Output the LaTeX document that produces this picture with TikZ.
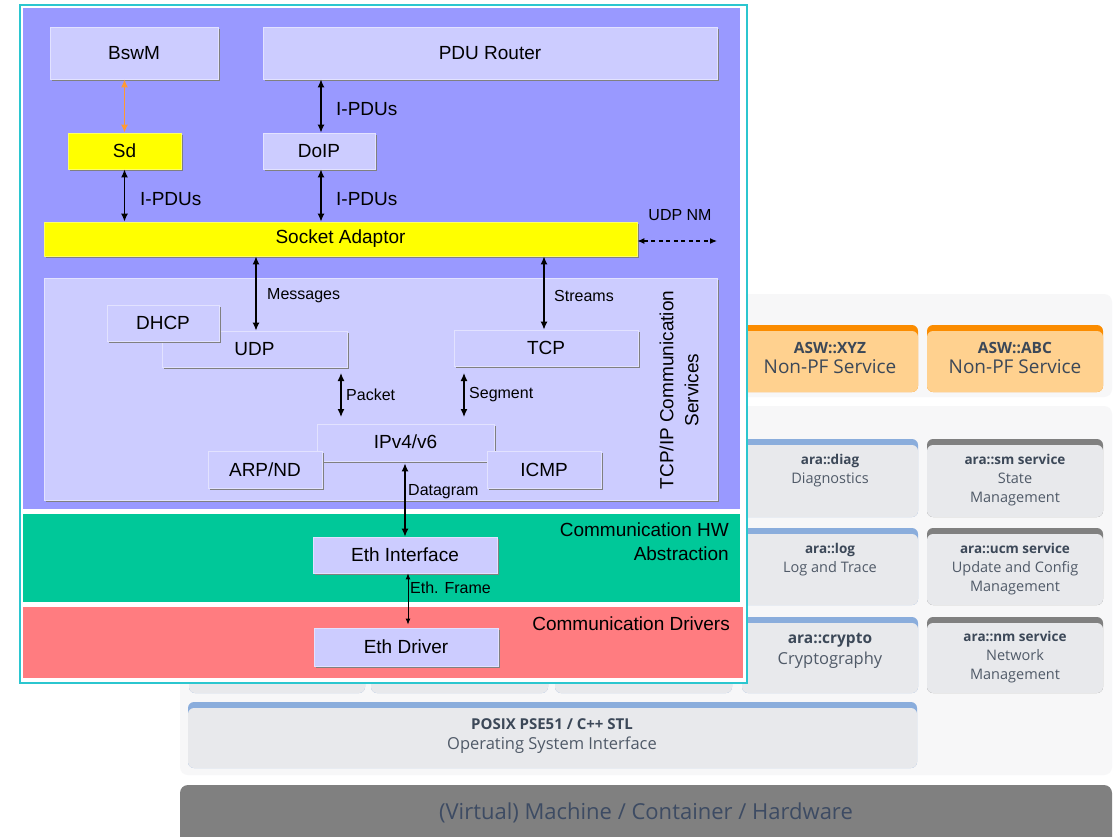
\documentclass[tikz,border=0pt]{standalone}
\usepackage{fontspec}
\setmainfont{Liberation Sans}
\newfontfamily\osans{Open Sans}
\usetikzlibrary{arrows.meta,shadows,calc}
\definecolor{cyanb}{HTML}{2BC6CF}
\definecolor{bluebg}{HTML}{9999FF}
\definecolor{lav}{HTML}{CCCCFF}
\definecolor{lavedge}{HTML}{E2E2FF}
\definecolor{greenbg}{HTML}{00C899}
\definecolor{redbg}{HTML}{FF7C80}
\definecolor{yel}{HTML}{FFFF00}
\definecolor{orarrow}{HTML}{FF9A33}
\definecolor{panel}{HTML}{F7F7F8}
\definecolor{svc}{HTML}{E8E9EC}
\definecolor{stripblue}{HTML}{8AADDC}
\definecolor{stripgray}{HTML}{808080}
\definecolor{aswbody}{HTML}{FFD18F}
\definecolor{aswstrip}{HTML}{FB8C00}
\definecolor{txtdark}{HTML}{3C4858}
\definecolor{txtreg}{HTML}{505A68}
\definecolor{vmtxt}{HTML}{3D4B63}
\tikzset{
  box/.style={fill=lav, draw=lavedge, line width=0.8pt, inner sep=0pt,
    font=\fontsize{19}{22}\selectfont,
    drop shadow={shadow xshift=1.6pt, shadow yshift=-1.6pt, fill=black!50, opacity=1}},
  ybox/.style={box, fill=yel, draw=yel!60!white},
  arr/.style={{Latex[length=8pt,width=7pt]}-{Latex[length=8pt,width=7pt]}, line width=1.3pt, black},
  thinarr/.style={{Latex[length=6pt,width=5pt]}-{Latex[length=6pt,width=5pt]}, line width=0.9pt, black},
  oarr/.style={{Latex[length=8pt,width=7pt]}-{Latex[length=8pt,width=7pt]}, line width=1.3pt, orarrow},
  darr/.style={{Latex[length=7pt,width=6pt]}-{Latex[length=7pt,width=6pt]}, line width=1.2pt, black, dash pattern=on 4pt off 3.5pt},
  lbl/.style={inner sep=0pt, font=\fontsize{19}{22}\selectfont},
  slbl/.style={inner sep=0pt, font=\fontsize{16}{19}\selectfont},
  svctxt/.style={inner sep=0pt, align=center, text=txtreg, font=\osans\fontsize{14.5}{19}\selectfont},
}
\newcommand{\svcbox}[5]{%
  \fill[#5, rounded corners=6pt] (#1,#2) rectangle (#3,#4);
  \fill[svc, rounded corners=6pt] (#1,#2+6) rectangle (#3,#4);
}
\begin{document}
\begin{tikzpicture}[x=1pt,y=-1pt]
\useasboundingbox (0,0) rectangle (1117,836);
\fill[white] (0,0) rectangle (1117,836);
% ---------- background architecture ----------
\fill[panel, rounded corners=8pt] (180,294) rectangle (1112,397);
\fill[panel, rounded corners=8pt] (180,406) rectangle (1112,775);
% ASW boxes
\fill[aswstrip, rounded corners=6pt] (742,325) rectangle (918,392);
\fill[aswbody, rounded corners=6pt] (742,331) rectangle (918,392);
\fill[aswstrip, rounded corners=6pt] (927,325) rectangle (1103,392);
\fill[aswbody, rounded corners=6pt] (927,331) rectangle (1103,392);
\node[svctxt, text=txtdark] (aswxyz) at (830,358) {{\bfseries\fontsize{15.5}{19}\selectfont ASW::XYZ}\\[1pt]{\fontsize{19}{21}\selectfont Non-PF Service}};
\node[svctxt, text=txtdark] (aswabc) at (1015,358) {{\bfseries\fontsize{15.5}{19}\selectfont ASW::ABC}\\[1pt]{\fontsize{19}{21}\selectfont Non-PF Service}};
% service boxes
\svcbox{742}{439}{918}{517}{stripblue}
\svcbox{927}{439}{1103}{517}{stripgray}
\svcbox{742}{528}{918}{605}{stripblue}
\svcbox{927}{528}{1103}{605}{stripgray}
\svcbox{742}{617}{918}{693}{stripblue}
\svcbox{927}{617}{1103}{693}{stripgray}
\svcbox{189}{617}{365}{693}{stripblue}
\svcbox{371}{617}{548}{693}{stripblue}
\svcbox{555}{617}{732}{693}{stripblue}
\svcbox{188}{702}{917}{768}{stripblue}
\node[svctxt] (diag) at (830,471) {{\bfseries\color{txtdark}\fontsize{13.5}{19}\selectfont ara::diag}\\Diagnostics};
\node[svctxt] (sm) at (1015,480) {{\bfseries\color{txtdark}\fontsize{13.5}{19}\selectfont ara::sm service}\\State\\Management};
\node[svctxt] (log) at (830,560) {{\bfseries\color{txtdark}\fontsize{13.5}{19}\selectfont ara::log}\\Log and Trace};
\node[svctxt] (ucm) at (1015,569) {{\bfseries\color{txtdark}\fontsize{13.5}{19}\selectfont ara::ucm service}\\Update and Config\\Management};
\node[svctxt, font=\osans\fontsize{16.5}{21}\selectfont] (crypto) at (830,650.5) {{\bfseries\color{txtdark}\fontsize{15.5}{21}\selectfont ara::crypto}\\Cryptography};
\node[svctxt] (nm) at (1015,657.5) {{\bfseries\color{txtdark}\fontsize{13.5}{19}\selectfont ara::nm service}\\Network\\Management};
\node[svctxt, font=\osans\fontsize{16.5}{20}\selectfont] (posix) at (552,736) {{\bfseries\color{txtdark}\fontsize{15}{20}\selectfont POSIX PSE51 / C++ STL}\\Operating System Interface};
\fill[stripgray, rounded corners=8pt] (180,785) rectangle (1112,852);
\node[inner sep=0pt, text=vmtxt, font=\osans\fontsize{22}{24}\selectfont] (vm) at (646,813) {(Virtual) Machine / Container / Hardware};
% ---------- main AUTOSAR CP stack ----------
\fill[white] (20,5) rectangle (747,683);
\draw[cyanb, line width=1.5pt] (20,5) rectangle (747,683);
\fill[bluebg] (23,8) rectangle (740,509);
\fill[greenbg] (23,514) rectangle (740,602);
\fill[redbg] (23,607) rectangle (743,678);
% boxes
\node[box, minimum width=168pt, minimum height=52pt] (bswm) at (134,53) {BswM};
\node[box, minimum width=454pt, minimum height=52pt] (pdur) at (490,53) {PDU Router};
\node[ybox, minimum width=113pt, minimum height=36pt] (sd) at (124.5,151) {Sd};
\node[box, minimum width=112pt, minimum height=36pt] (doip) at (319,151) {DoIP};
\node[ybox, minimum width=593pt, minimum height=34pt] (soad) at (340.5,239) {Socket Adaptor};
\node[box, minimum width=673pt, minimum height=222pt] (tcpip) at (380.5,389) {};
\node[box, minimum width=185pt, minimum height=36pt] (udp) at (254.5,349) {UDP};
\node[box, minimum width=112pt, minimum height=36pt] (dhcp) at (163,323) {DHCP};
\node[box, minimum width=184pt, minimum height=36pt] (tcp) at (546,348) {TCP};
\node[box, minimum width=177pt, minimum height=37pt] (ip) at (405.5,442.5) {};
\node[lbl] (iptxt) at (405.5,442) {IPv4/v6};
\node[box, minimum width=114pt, minimum height=37pt] (arp) at (265,469.5) {ARP/ND};
\node[box, minimum width=114pt, minimum height=37pt] (icmp) at (544,469.5) {ICMP};
\node[box, minimum width=184pt, minimum height=36pt] (ethif) at (405,555) {Eth Interface};
\node[box, minimum width=184pt, minimum height=38pt] (ethdrv) at (406,647) {Eth Driver};
% labels
\node[lbl, rotate=90, align=center, font=\fontsize{19}{25}\selectfont] (tcpiplbl) at (679,390) {TCP/IP Communication\\Services};
\node[lbl, anchor=east, align=right, font=\fontsize{19}{24}\selectfont] (hwlbl) at (729,542) {Communication HW\\Abstraction};
\node[lbl, anchor=east] (drvlbl) at (730,624) {Communication Drivers};
% connectors
\draw[oarr] (sd.north |- bswm.south) -- (sd.north);
\draw[arr] ([xshift=2pt]doip.north |- pdur.south) -- ([xshift=2pt]doip.north);
\node[lbl, anchor=west] (l1) at (336,109) {I-PDUs};
\draw[arr] (sd.south) -- (sd.south |- soad.north);
\node[lbl, anchor=west] (l2) at (140,199) {I-PDUs};
\draw[arr] ([xshift=2pt]doip.south) -- ([xshift=2pt]doip.south |- soad.north);
\node[lbl, anchor=west] (l3) at (336,199) {I-PDUs};
\coordinate (nmend) at (717,241);
\draw[darr] (soad.east |- nmend) -- (nmend);
\node[slbl] (nmlbl) at (680,215) {UDP NM};
\draw[arr] (soad.south -| 256,0) -- (udp.north -| 256,0);
\node[slbl, anchor=west] (msg) at (267,296) {Messages};
\draw[arr] (soad.south -| 544,0) -- (tcp.north -| 544,0);
\node[slbl, anchor=west] (str) at (554,296) {Streams};
\coordinate (pk1) at (341,373);
\coordinate (pk2) at (341,417);
\draw[arr] (pk1) -- (pk2);
\node[slbl, anchor=west] (pkt) at (346,395) {Packet};
\coordinate (sg1) at (464,373);
\coordinate (sg2) at (464,417);
\draw[arr] (sg1) -- (sg2);
\node[slbl, anchor=west] (seg) at (469,395) {Segment};
\draw[arr] ([yshift=-2pt]ethif.north |- ip.south) -- (ethif.north);
\node[slbl, anchor=west] (dg) at (408,492) {Datagram};
\draw[thinarr] ([xshift=2pt]ethdrv.north |- ethif.south) -- ([xshift=2pt,yshift=3pt]ethdrv.north);
\node[slbl, anchor=west] (ef) at (410,588) {Eth. Frame};
\end{tikzpicture}
\end{document}
